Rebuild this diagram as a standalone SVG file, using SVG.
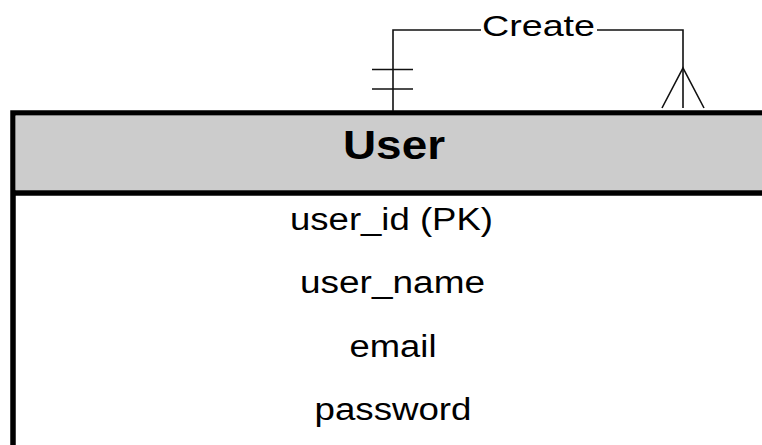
<svg xmlns="http://www.w3.org/2000/svg" width="762" height="445" viewBox="0 0 762 445">
<style>
.ln{fill:none;stroke:#111;stroke-width:1.6}
.t{font-family:"Liberation Sans",Arial,sans-serif;fill:#000;text-anchor:middle}
.row{font-size:31px}
</style>
<rect width="762" height="445" fill="#fff"/>
<g id="user">
<rect x="13" y="113" width="820" height="400" fill="#fff" stroke="#000" stroke-width="5.5"/>
<rect x="15.5" y="115.5" width="815" height="75" fill="#cccccc"/>
<line x1="13" y1="193" x2="833" y2="193" stroke="#000" stroke-width="5.5"/>
<text class="t" x="394" y="159" font-size="40" font-weight="bold" textLength="102" lengthAdjust="spacingAndGlyphs">User</text>
<text class="t row" x="391.5" y="230" textLength="203" lengthAdjust="spacingAndGlyphs">user_id (PK)</text>
<text class="t row" x="392.5" y="293" textLength="185" lengthAdjust="spacingAndGlyphs">user_name</text>
<text class="t row" x="393" y="357" textLength="87" lengthAdjust="spacingAndGlyphs">email</text>
<text class="t row" x="393" y="420" textLength="157" lengthAdjust="spacingAndGlyphs">password</text>
</g>
<g id="connectors">
<polyline class="ln" points="393,111 393,30 481,30"/>
<polyline class="ln" points="597,30 683,30 683,108"/>
<line class="ln" x1="372" y1="69.5" x2="413" y2="69.5"/>
<line class="ln" x1="372" y1="89" x2="413" y2="89"/>
<polyline class="ln" points="662,108 683,68 704,108"/>
<text class="t" x="538.5" y="35.5" font-size="29" textLength="113" lengthAdjust="spacingAndGlyphs">Create</text>
</g>
</svg>
